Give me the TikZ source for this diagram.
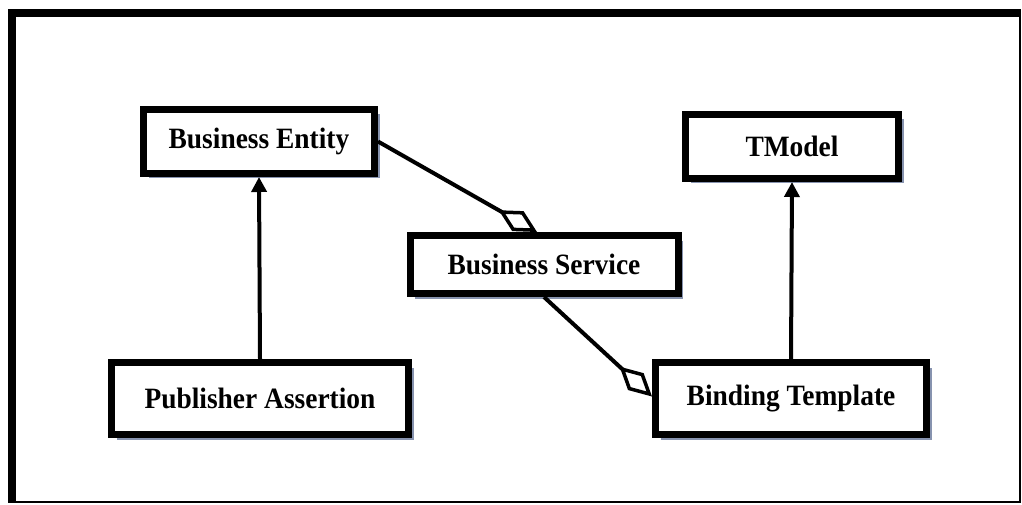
\documentclass[tikz,border=0pt]{standalone}
\usepackage{fontspec}
\setmainfont[FakeStretch=0.93]{Liberation Serif}
\usetikzlibrary{arrows.meta,shadows}
\definecolor{shadowblue}{RGB}{135,147,175}
\begin{document}
\begin{tikzpicture}[x=1pt,y=-1pt,
  entity/.style={draw=black, line width=7pt, fill=white, inner sep=0pt,
    font=\fontsize{29.5}{34}\selectfont\bfseries,
    drop shadow={shadow xshift=5pt, shadow yshift=-5pt, fill=shadowblue, opacity=1}},
  link/.style={line width=4pt},
  generalize/.style={link, -{Triangle[length=15pt,width=15pt]}},
  aggregate/.style={link, -{Diamond[open, length=44pt, width=23pt, line width=3.5pt]}}]

% page and frame
\useasboundingbox (0,0) rectangle (1022,505);
\fill[white] (0,0) rectangle (1022,505);
\fill[black] (8,9) rectangle (1021,503);
\fill[white] (15.5,17) rectangle (1018.8,500.5);

% UDDI data structures
\node[entity, minimum width=231pt, minimum height=64pt] (BE) at (259,141.5) {Business Entity};
\node[entity, minimum width=213pt, minimum height=64pt] (TM) at (792,146.5) {TModel};
\node[entity, minimum width=268pt, minimum height=58pt] (BS) at (544,264.5) {Business Service};
\node[entity, minimum width=297pt, minimum height=72pt] (PA) at (260,398.5) {Publisher Assertion};
\node[entity, minimum width=271pt, minimum height=72pt] (BT) at (791,398.5) {Binding Template};

% relations
\draw[generalize] (PA.north) -- (BE.south);
\draw[generalize] (BT.north) -- (TM.south);
\draw[aggregate] (BE.east) -- ([xshift=-7pt]BS.north);
\draw[aggregate] (BS.south) -- ([yshift=2pt]BT.west);
\end{tikzpicture}
\end{document}
